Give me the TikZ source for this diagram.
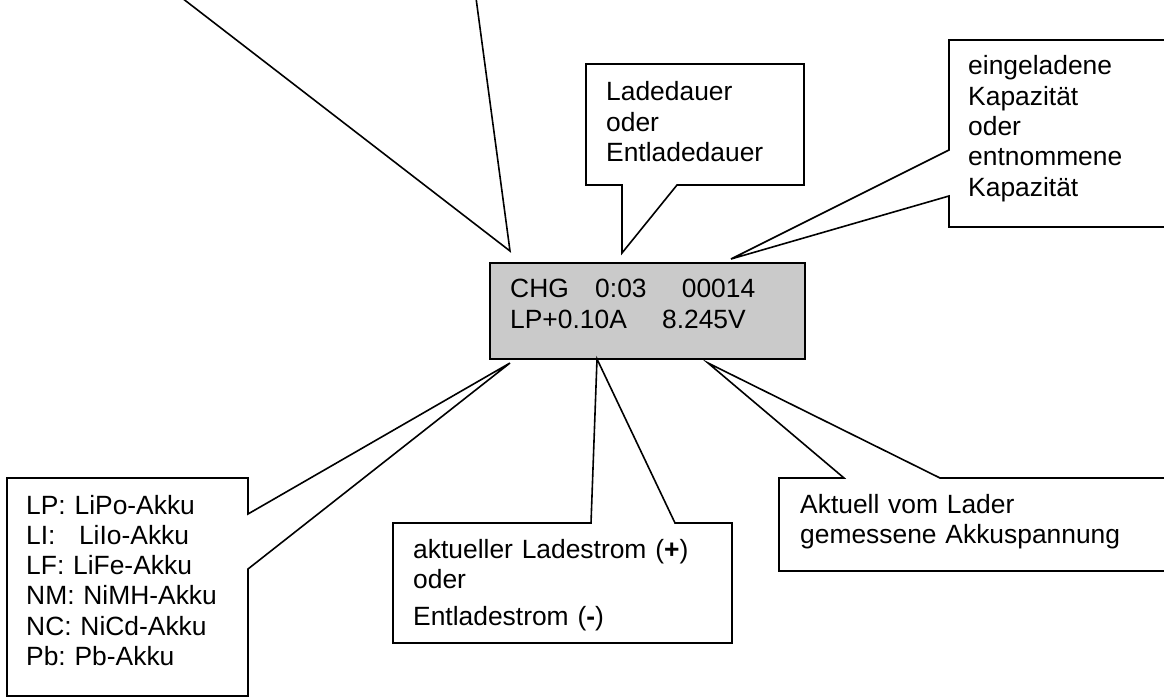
\documentclass[tikz,border=0pt]{standalone}
\usepackage{fontspec}
\setmainfont{Liberation Sans}
\frenchspacing
\begin{document}
\begin{tikzpicture}[x=1pt,y=-1pt,
  co/.style={draw=black,line width=1.6pt,line join=miter},
  lcdbox/.style={draw=black,line width=1.6pt,fill={rgb,255:red,202;green,202;blue,202},anchor=north west,inner sep=0pt,minimum width=315pt,minimum height=96pt},
  txt/.style={anchor=base west,inner sep=0pt,text width=#1,align=left,font=\fontsize{26.4}{30.3}\selectfont\frenchspacing},
  lcdtxt/.style={anchor=base west,inner sep=0pt,text width=280pt,align=left,font=\fontsize{26.4}{31}\selectfont\frenchspacing}]
\useasboundingbox (0,0) rectangle (1164,698);
\clip (0,0) rectangle (1164,698);

% display
\node[lcdbox] (lcd) at (489,262) {};
\node[lcdtxt] (lcdtext) at (510,297) {CHG\ \ \ 0:03\ \ \ \ 00014\\LP+0.10A\ \ \ \ 8.245V};

% pointer of a callout lying above the picture
\coordinate (tlA) at (182,-2);
\coordinate (tlB) at (476,-2);
\coordinate (tlTip) at (510,251);
\draw[co] (tlA) -- (tlTip) -- (tlB);

% Ladedauer
\coordinate (ldTip) at (622,253);
\draw[co] (586,185) -- (586,64) -- (804,64) -- (804,185) -- (677,185) -- (ldTip) -- (622,185) -- cycle;
\node[txt=190pt] (tLade) at (606,101) {Ladedauer\\oder\\Entladedauer};

% Kapazitaet
\coordinate (kpTip) at (731,259);
\draw[co] (949,150) -- (949,40) -- (1190,40) -- (1190,227) -- (949,227) -- (949,196) -- (kpTip) -- cycle;
\node[txt=200pt] (tKap) at (968,75) {eingeladene\\Kapazität\\oder\\entnommene\\Kapazität};

% Akku types
\coordinate (tyTip) at (510,363);
\draw[co] (248,514) -- (tyTip) -- (248,569) -- (248,696) -- (7,696) -- (7,478) -- (248,478) -- cycle;
\node[txt=215pt] (tTyp) at (26,514) {LP: LiPo-Akku\\LI:\hspace*{23.5pt}LiIo-Akku\\LF: LiFe-Akku\\NM: NiMH-Akku\\NC: NiCd-Akku\\Pb: Pb-Akku};

% Ladestrom
\coordinate (stTip) at (597,359);
\draw[co] (393,523) -- (591,523) -- (stTip) -- (675,523) -- (732,523) -- (732,643) -- (393,643) -- cycle;
\node[txt=310pt] (tStrom) at (413,558) {aktueller Ladestrom (\textbf{+})\\oder\\[6.7pt]Entladestrom (\textbf{-})};

% Spannung
\coordinate (spTip) at (708,363);
\draw[co] (779,478) -- (844,478) -- (spTip) -- (940,478) -- (1190,478) -- (1190,571) -- (779,571) -- cycle;
\node[txt=360pt] (tSpann) at (800,513) {Aktuell vom Lader\\gemessene Akkuspannung};
\end{tikzpicture}
\end{document}
